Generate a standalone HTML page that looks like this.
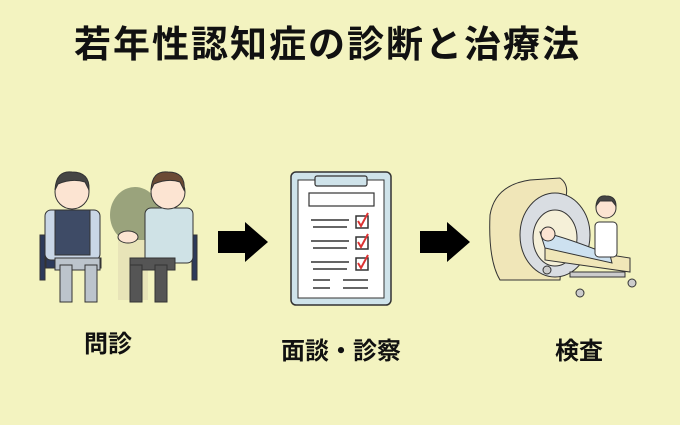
<!DOCTYPE html>
<html><head><meta charset="utf-8"><style>
html,body{margin:0;padding:0;background:#f3f3c0;}
body{width:680px;height:425px;overflow:hidden;position:relative;font-family:"Liberation Sans","Noto Sans CJK JP",sans-serif;}
.t{position:absolute;font-weight:bold;color:#111;white-space:nowrap;line-height:1;}
</style></head><body>
<div class="t" style="left:74px;top:26px;font-size:37px;letter-spacing:2px;">若年性認知症の診断と治療法</div>
<div class="t" style="left:84px;top:333px;font-size:24px;">問診</div>
<div class="t" style="left:281px;top:340px;font-size:24px;">面談・診察</div>
<div class="t" style="left:555px;top:340px;font-size:24px;">検査</div>
<svg width="680" height="425" style="position:absolute;left:0;top:0">
<polygon points="218,231 245,231 245,222 268,242 245,262 245,253 218,253" fill="#000"/>
<polygon points="420,231 447,231 447,222 470,242 447,262 447,253 420,253" fill="#000"/>
<rect x="291" y="172" width="100" height="133" rx="5" fill="#cfe3ea" stroke="#333" stroke-width="1.5"/>
<rect x="298" y="180" width="86" height="118" fill="#fff" stroke="#333" stroke-width="1"/>
<rect x="315" y="176" width="52" height="10" rx="2" fill="#cfe3ea" stroke="#333" stroke-width="1.2"/>
<rect x="309" y="193" width="65" height="13" fill="#fff" stroke="#333" stroke-width="1.2"/>
<g stroke="#333" stroke-width="1.5">
<line x1="311" y1="220" x2="349" y2="220"/><line x1="313" y1="227" x2="347" y2="227"/>
<line x1="311" y1="241" x2="349" y2="241"/><line x1="313" y1="248" x2="347" y2="248"/>
<line x1="311" y1="262" x2="349" y2="262"/><line x1="313" y1="269" x2="347" y2="269"/>
<line x1="313" y1="280" x2="330" y2="280"/><line x1="343" y1="280" x2="368" y2="280"/>
<line x1="313" y1="288" x2="330" y2="288"/><line x1="343" y1="288" x2="368" y2="288"/>
</g>
<g fill="#fff" stroke="#333" stroke-width="1.5">
<rect x="356" y="216" width="12" height="12"/><rect x="356" y="237" width="12" height="12"/><rect x="356" y="258" width="12" height="12"/>
</g>
<g fill="none" stroke="#d33" stroke-width="2">
<polyline points="358,221 361,226 368,213"/><polyline points="358,242 361,247 368,234"/><polyline points="358,263 361,268 368,255"/>
</g>
<ellipse cx="135" cy="215" rx="25" ry="28" fill="#9aa37c"/>
<rect x="118" y="240" width="30" height="60" fill="#e8e4b8"/>
<g stroke="#333" stroke-width="1">
<rect x="40" y="235" width="5" height="45" fill="#2d3a5a"/>
<rect x="46" y="258" width="55" height="10" fill="#2d3a5a"/>
<rect x="45" y="210" width="55" height="50" rx="6" fill="#c9d6e6"/>
<rect x="55" y="210" width="35" height="45" fill="#3e4b66"/>
<circle cx="72" cy="192" r="17" fill="#fce4d2"/>
<path d="M55,190 Q56,170 72,172 Q90,172 89,190 L85,182 Q72,178 58,184 Z" fill="#444"/>
<rect x="55" y="258" width="45" height="12" fill="#bcc4cc"/>
<rect x="60" y="265" width="12" height="37" fill="#bcc4cc"/>
<rect x="85" y="265" width="12" height="37" fill="#bcc4cc"/>
<rect x="192" y="235" width="5" height="45" fill="#2d3a5a"/>
<rect x="145" y="208" width="48" height="55" rx="6" fill="#cfe2e6"/>
<circle cx="168" cy="192" r="17" fill="#fce4d2"/>
<path d="M151,190 Q152,170 168,172 Q186,172 184,190 L180,182 Q168,178 154,184 Z" fill="#6b4a35"/>
<rect x="130" y="258" width="45" height="12" fill="#555"/>
<rect x="130" y="265" width="12" height="37" fill="#555"/>
<rect x="155" y="265" width="12" height="37" fill="#555"/>
<ellipse cx="128" cy="237" rx="10" ry="6" fill="#fce4d2"/>
</g>
<g stroke="#333" stroke-width="1">
<path d="M490,215 Q495,185 530,180 L560,178 Q570,185 565,200 L560,280 L500,280 Q488,260 490,215 Z" fill="#f0e6b8"/>
<ellipse cx="555" cy="235" rx="35" ry="42" fill="#d9dde2"/>
<ellipse cx="555" cy="238" rx="22" ry="28" fill="#f5f0d8"/>
<path d="M545,245 L630,258 L630,272 L545,260 Z" fill="#f0e6b8"/>
<path d="M540,232 Q560,235 610,255 L612,263 L545,248 Z" fill="#cde1f0"/>
<circle cx="548" cy="234" r="7" fill="#fce4d2"/>
<rect x="595" y="222" width="22" height="35" rx="4" fill="#fff"/>
<circle cx="606" cy="208" r="10" fill="#fce4d2"/>
<path d="M596,206 Q597,195 606,196 Q616,196 616,206 L612,201 L600,201 Z" fill="#444"/>
<rect x="570" y="272" width="55" height="5" fill="#ccc"/>
<circle cx="547" cy="270" r="4" fill="#ccc"/><circle cx="580" cy="293" r="4" fill="#ccc"/><circle cx="632" cy="283" r="4" fill="#ccc"/>
</g>
</svg>
</body></html>
